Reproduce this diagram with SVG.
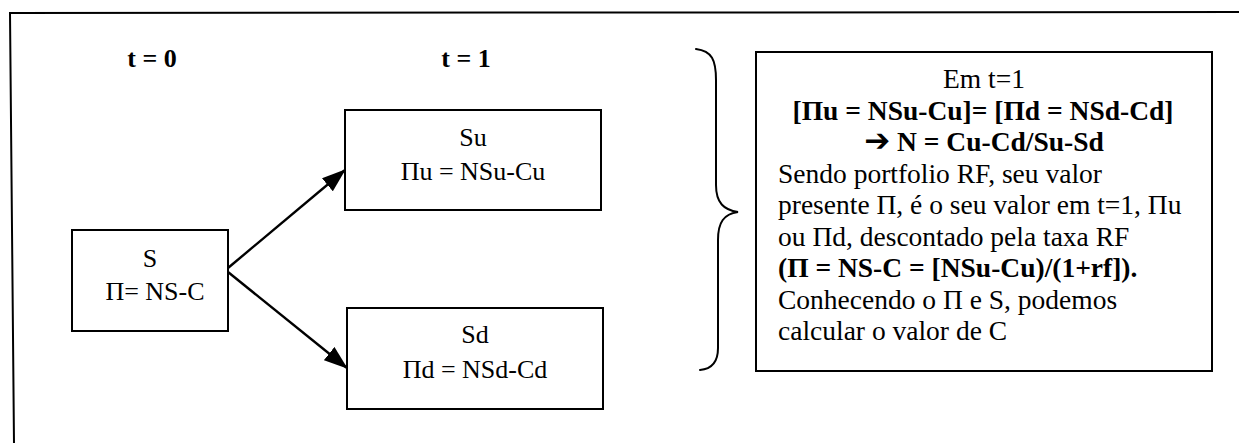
<svg xmlns="http://www.w3.org/2000/svg" width="1239" height="443" viewBox="0 0 1239 443">
  <defs>
    <marker id="arrowhead" viewBox="0 0 24 17" refX="23" refY="8.5" markerWidth="24" markerHeight="17" markerUnits="userSpaceOnUse" orient="auto">
      <path d="M0,0 L24,8.5 L0,17 Z" fill="#000"/>
    </marker>
    <style>
      .frame { fill: none; stroke: #000; stroke-width: 2; }
      .box { fill: #fff; stroke: #000; stroke-width: 2; }
      .txt { font-family: "Liberation Serif", "Times New Roman", serif; font-size: 26px; fill: #000; }
      .note { font-size: 27.5px; }
      .c { text-anchor: middle; }
      .b { font-weight: bold; }
      .edge { fill: none; stroke: #000; stroke-width: 2.4; }
      .brace { fill: none; stroke: #000; stroke-width: 2; stroke-linecap: round; }
    </style>
  </defs>

  <rect width="1239" height="443" fill="#fff"/>

  <!-- outer frame (open at right and bottom) -->
  <path class="frame" d="M14,443 L10,13 L1239,12"/>

  <!-- time labels -->
  <text class="txt b c" x="152" y="67">t = 0</text>
  <text class="txt b c" x="466" y="67">t = 1</text>

  <!-- connectors -->
  <g id="connectors">
    <line class="edge" x1="228" y1="268" x2="345" y2="170" marker-end="url(#arrowhead)"/>
    <line class="edge" x1="228" y1="272" x2="347" y2="368" marker-end="url(#arrowhead)"/>
  </g>

  <!-- t=0 node -->
  <g id="node-s">
    <rect class="box" x="72" y="230" width="156" height="101"/>
    <text class="txt c" x="150" y="267">S</text>
    <text class="txt c" x="155" y="300">Π= NS-C</text>
  </g>

  <!-- t=1 up node -->
  <g id="node-su">
    <rect class="box" x="345" y="110" width="256" height="100"/>
    <text class="txt c" x="473" y="146">Su</text>
    <text class="txt c" x="473" y="180">Πu = NSu-Cu</text>
  </g>

  <!-- t=1 down node -->
  <g id="node-sd">
    <rect class="box" x="347" y="308" width="256" height="101"/>
    <text class="txt c" x="475" y="343">Sd</text>
    <text class="txt c" x="475" y="378">Πd = NSd-Cd</text>
  </g>

  <!-- curly brace -->
  <path class="brace" d="M696,49 C712,51 716,60 716,80 L716,185 C716,203 724,210 738,212 C724,214 718,222 718,240 L718,348 C718,362 712,369 700,370"/>

  <!-- explanation box -->
  <g id="node-note">
    <rect class="box" x="756" y="52" width="456" height="319"/>
    <text class="txt note c" x="984" y="88">Em t=1</text>
    <text class="txt note b c" x="983" y="119.5">[Πu = NSu-Cu]= [Πd = NSd-Cd]</text>
    <text class="txt note b c" x="984" y="151"><tspan font-family="DejaVu Sans, sans-serif" font-size="31px">➔</tspan> N = Cu-Cd/Su-Sd</text>
    <text class="txt note" x="778" y="182.5">Sendo portfolio RF, seu valor</text>
    <text class="txt note" x="778" y="214">presente Π, é o seu valor em t=1, Πu</text>
    <text class="txt note" x="778" y="245.5">ou Πd, descontado pela taxa RF</text>
    <text class="txt note b" x="778" y="277">(Π = NS-C = [NSu-Cu)/(1+rf]).</text>
    <text class="txt note" x="778" y="308.5">Conhecendo o Π e S, podemos</text>
    <text class="txt note" x="778" y="340">calcular o valor de C</text>
  </g>
</svg>
